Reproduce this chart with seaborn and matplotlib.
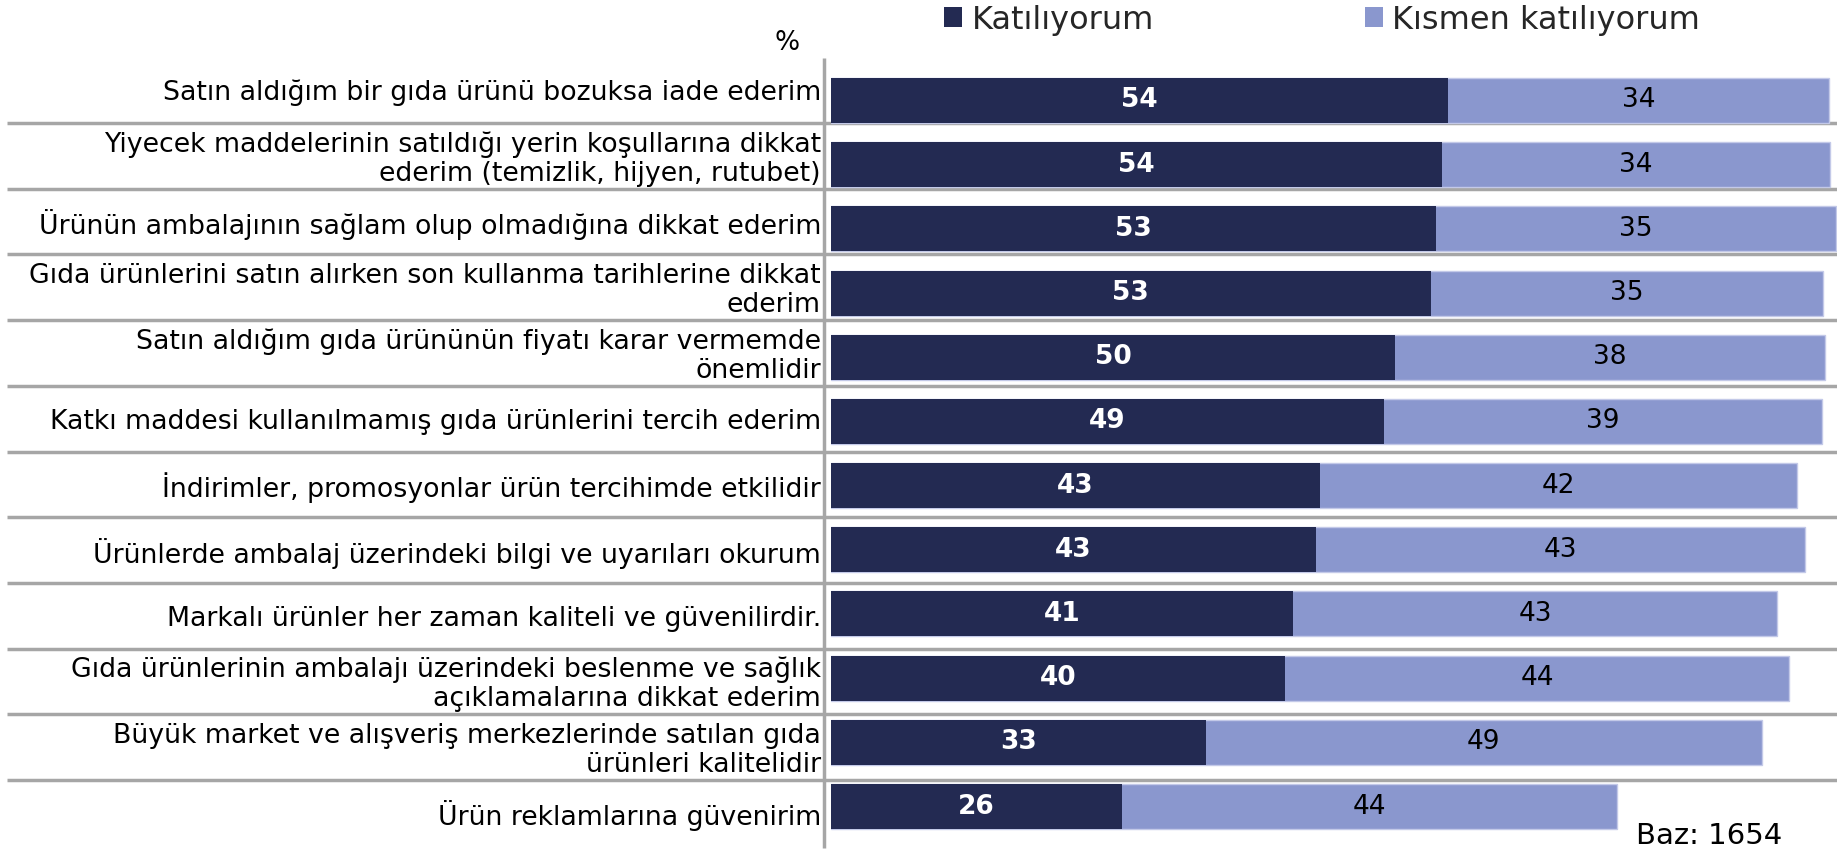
import pandas as pd
import seaborn as sns
import matplotlib.pyplot as plt
from matplotlib.patches import Patch

# survey statements (top to bottom) and percentages
statements = [
    "Satın aldığım bir gıda ürünü bozuksa iade ederim",
    "Yiyecek maddelerinin satıldığı yerin koşullarına dikkat\nederim (temizlik, hijyen, rutubet)",
    "Ürünün ambalajının sağlam olup olmadığına dikkat ederim",
    "Gıda ürünlerini satın alırken son kullanma tarihlerine dikkat\nederim",
    "Satın aldığım gıda ürününün fiyatı karar vermemde\nönemlidir",
    "Katkı maddesi kullanılmamış gıda ürünlerini tercih ederim",
    "İndirimler, promosyonlar ürün tercihimde etkilidir",
    "Ürünlerde ambalaj üzerindeki bilgi ve uyarıları okurum",
    "Markalı ürünler her zaman kaliteli ve güvenilirdir.",
    "Gıda ürünlerinin ambalajı üzerindeki beslenme ve sağlık\naçıklamalarına dikkat ederim",
    "Büyük market ve alışveriş merkezlerinde satılan gıda\nürünleri kalitelidir",
    "Ürün reklamlarına güvenirim",
]
katiliyorum = [54.3, 53.8, 53.3, 52.8, 49.7, 48.7, 43.1, 42.7, 40.7, 40.0, 33.0, 25.6]
kismen = [33.6, 34.2, 35.2, 34.6, 37.8, 38.6, 42.0, 43.1, 42.6, 44.4, 49.0, 43.6]
series_names = ["Katılıyorum", "Kısmen katılıyorum"]
base_note = "Baz: 1654"

df = pd.DataFrame({"item": statements, "agree": katiliyorum, "partly": kismen})
df["total"] = df["agree"] + df["partly"]

sns.set_theme(style="white")
plt.rcParams["font.family"] = ["DejaVu Sans"]

DARK = "#232a52"
LIGHT = "#8a97ce"
GRID = "#a6a6a6"
W, H = 1837, 851

fig = plt.figure(figsize=(W / 100, H / 100), dpi=100)

# background layer: label table, row separators, vertical axis line (pixel coords)
bg = fig.add_axes([0, 0, 1, 1], zorder=0)
bg.set_xlim(0, W)
bg.set_ylim(H, 0)
bg.axis("off")
row_top, row_h = 57.3, 65.7
for k in range(1, len(statements)):
    bg.hlines(row_top + k * row_h, 7, W, color=GRID, lw=2.5)
bg.vlines(824, 58, 848, color=GRID, lw=2.5)
for i, s in enumerate(statements):
    bg.text(821, row_top + row_h * (i + 0.5) + 3, s, ha="right", va="center",
            fontsize=19.3, color="black", linespacing=1.15)
bg.text(787, 43, "%", ha="center", va="center", fontsize=19, color="black")
bg.text(1636, 836, base_note, ha="left", va="center", fontsize=21, color="black")

# bar layer
ax = fig.add_axes([831 / W, 12.4 / H, 1006 / W, 770.2 / H], zorder=1)
ax.patch.set_alpha(0)
sns.barplot(data=df, x="total", y="item", color=LIGHT, orient="h", width=0.7,
            saturation=1, edgecolor="#c3c9e8", linewidth=1, ax=ax)
sns.barplot(data=df, x="agree", y="item", color=DARK, orient="h", width=0.7,
            saturation=1, linewidth=0, ax=ax)
ax.set_xlim(0, 88.6)
ax.set_ylim(11.5, -0.5)
ax.set_xlabel("")
ax.set_ylabel("")
ax.set_xticks([])
ax.set_yticks([])
for sp in ax.spines.values():
    sp.set_visible(False)

tot_bars = ax.containers[0]
agree_bars = ax.containers[1]
for pt, pa, a, p in zip(tot_bars, agree_bars, katiliyorum, kismen):
    yc = pa.get_y() + pa.get_height() / 2
    ax.text(pa.get_width() / 2, yc, f"{a:.0f}", ha="center", va="center",
            color="white", fontsize=19, fontweight="bold")
    ax.text((pa.get_width() + pt.get_width()) / 2, yc, f"{p:.0f}", ha="center",
            va="center", color="black", fontsize=19)

handles = [Patch(facecolor=DARK, edgecolor="none"), Patch(facecolor=LIGHT, edgecolor="none")]
fig.legend(handles, series_names, loc="center left", bbox_to_anchor=(944 / W, 1 - 20 / H),
           ncol=2, frameon=False, fontsize=23, handlelength=0.56, handleheight=0.56,
           handletextpad=0.3, columnspacing=6.6, borderpad=0, borderaxespad=0)

fig.savefig("out.png", dpi=100)
